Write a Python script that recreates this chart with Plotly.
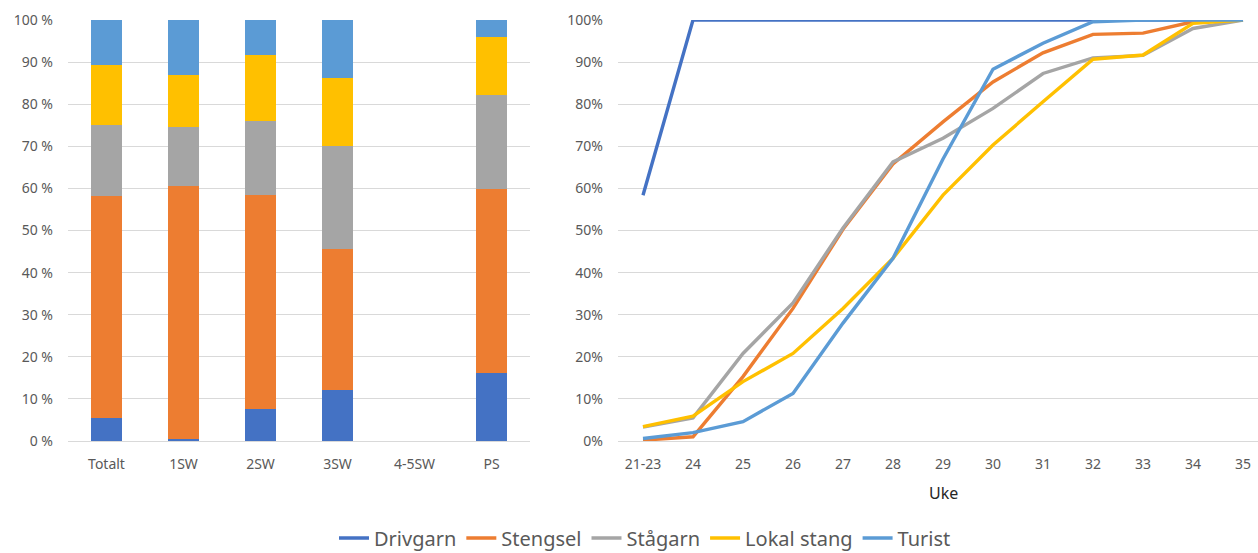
import plotly.graph_objects as go

# Share of catch per gear type, by sea-age group (stacked, %)
groups = ["Totalt", "1SW", "2SW", "3SW", "4-5SW", "PS"]
drivgarn_share = [5.5, 0.4, 7.7, 12.0, 0, 16.2]
stengsel_share = [52.7, 60.2, 50.7, 33.5, 0, 43.6]
stagarn_share = [16.9, 13.9, 17.5, 24.5, 0, 22.5]
lokal_share = [14.2, 12.4, 15.9, 16.3, 0, 13.6]
turist_share = [10.7, 13.1, 8.2, 13.7, 0, 4.1]

# Cumulative share of catch per week (%)
weeks = ["21-23", "24", "25", "26", "27", "28", "29", "30", "31", "32", "33", "34", "35"]
drivgarn_cum = [58.4, 100, 100, 100, 100, 100, 100, 100, 100, 100, 100, 100, 100]
stengsel_cum = [0.2, 1.0, 15.3, 31.5, 50.3, 65.8, 75.8, 85.3, 92.2, 96.6, 96.9, 99.6, 100]
stagarn_cum = [3.3, 5.5, 20.8, 32.8, 50.6, 66.3, 71.9, 79.0, 87.3, 91.0, 91.6, 98.0, 100]
lokal_cum = [3.4, 5.9, 14.1, 20.8, 31.5, 43.4, 58.4, 70.3, 80.6, 90.7, 91.7, 99.2, 100]
turist_cum = [0.6, 2.0, 4.6, 11.3, 28.0, 43.4, 67.0, 88.3, 94.5, 99.6, 100, 100, 100]

names = ["Drivgarn", "Stengsel", "Stågarn", "Lokal stang", "Turist"]
colors = ["#4472C4", "#ED7D31", "#A5A5A5", "#FFC000", "#5B9BD5"]
shares = [drivgarn_share, stengsel_share, stagarn_share, lokal_share, turist_share]
cums = [drivgarn_cum, stengsel_cum, stagarn_cum, lokal_cum, turist_cum]

W, H = 1258, 553
FONT = "Noto Sans"
TICK = dict(family=FONT, size=14, color="#595959")
GRID = "#D9D9D9"

fig = go.Figure()

for name, color, vals in zip(names, colors, shares):
    fig.add_trace(go.Bar(
        x=groups, y=[v / 100 for v in vals], name=name,
        marker=dict(color=color, line=dict(width=0)),
        width=0.4, showlegend=False, xaxis="x", yaxis="y",
    ))

for name, color, vals in zip(names, colors, cums):
    fig.add_trace(go.Scatter(
        x=weeks, y=[v / 100 for v in vals], name=name, mode="lines",
        line=dict(color=color, width=3.4),
        xaxis="x2", yaxis="y2",
    ))

def px_x(p):
    return p / W

def px_y(p):
    return (H - p) / H

yticks = [i / 10 for i in range(11)]

fig.update_layout(
    width=W, height=H,
    margin=dict(l=0, r=0, t=0, b=0, autoexpand=False),
    paper_bgcolor="white", plot_bgcolor="white",
    barmode="stack",
    font=dict(family=FONT, color="#595959"),
    xaxis=dict(
        domain=[px_x(68), px_x(530)], type="category",
        range=[-0.5, 5.5], tickfont=TICK, showgrid=False,
        showline=True, linecolor=GRID, linewidth=1, ticks="",
        automargin=False, ticklabelstandoff=10,
    ),
    yaxis=dict(
        domain=[px_y(441), px_y(20)], range=[0, 1.0001],
        tickvals=yticks, ticktext=[f"{i * 10} %" for i in range(11)],
        tickfont=TICK, gridcolor=GRID, gridwidth=1, zeroline=False,
        showline=False, ticks="", anchor="x",
        automargin=False, ticklabelstandoff=14,
    ),
    xaxis2=dict(
        domain=[px_x(618), 1], type="category",
        range=[-0.5, 12.3], tickfont=TICK, showgrid=False,
        showline=True, linecolor=GRID, linewidth=1, ticks="", anchor="y2",
        automargin=False, ticklabelstandoff=10,
    ),
    yaxis2=dict(
        domain=[px_y(441), px_y(20)], range=[0, 1.0001],
        tickvals=yticks, ticktext=[f"{i * 10}%" for i in range(11)],
        tickfont=TICK, gridcolor=GRID, gridwidth=1, zeroline=False,
        showline=False, ticks="", anchor="x2",
        automargin=False, ticklabelstandoff=14,
    ),
    legend=dict(
        orientation="h", traceorder="normal",
        x=px_x(645), xanchor="center",
        y=px_y(538), yanchor="middle",
        font=dict(family=FONT, size=20, color="#595959"),
        itemwidth=30, tracegroupgap=0,
    ),
    annotations=[dict(
        text="Uke", x=px_x(943), y=px_y(493), xref="paper", yref="paper",
        showarrow=False, xanchor="center", yanchor="middle",
        font=dict(family=FONT, size=16, color="#262626"),
    )],
)

fig.write_html("out.html")
